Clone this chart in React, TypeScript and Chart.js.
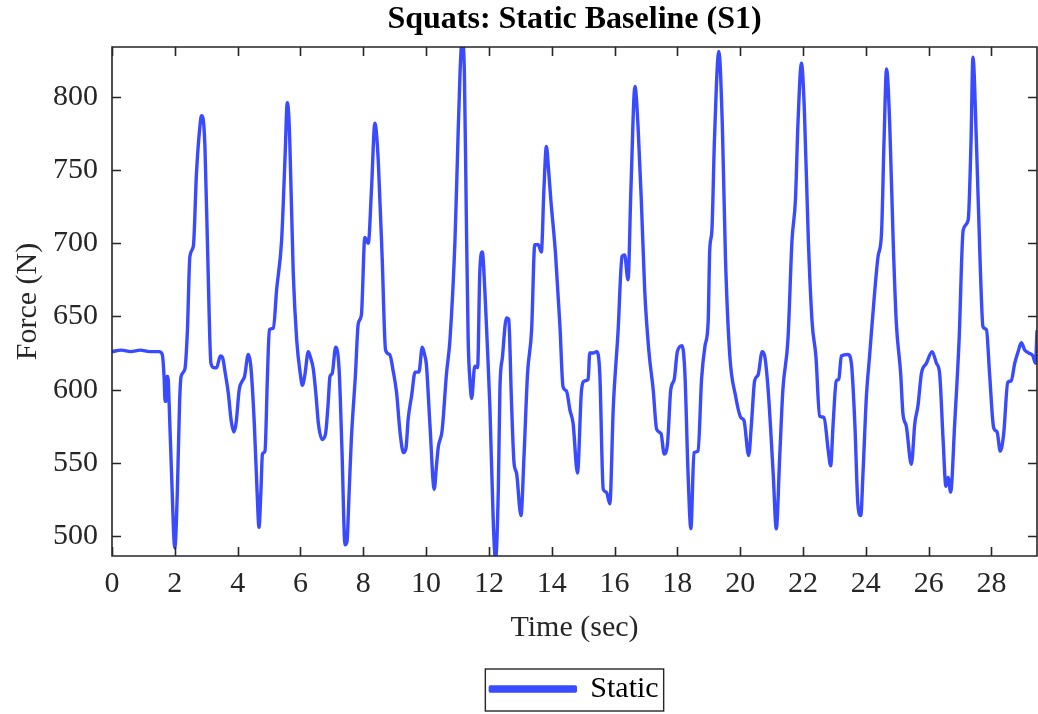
import React, { useEffect, useRef } from "react";
import { Chart, registerables } from "chart.js";

Chart.register(...registerables);

const timeSec: number[] = [
  0.0, 0.3, 0.6, 0.9, 1.2, 1.5, 1.6, 1.66, 1.69, 1.72, 1.75, 1.78, 1.82, 1.9, 2.0, 2.08, 2.15, 2.2, 2.32, 2.4,
  2.48, 2.59, 2.69, 2.8, 2.85, 2.9, 2.96, 3.05, 3.15, 3.25, 3.33, 3.45, 3.52, 3.6, 3.7, 3.8, 3.88, 3.95, 4.05, 4.15,
  4.22, 4.34, 4.42, 4.53, 4.62, 4.68, 4.74, 4.79, 4.87, 4.95, 5.01, 5.14, 5.24, 5.4, 5.51, 5.58, 5.62, 5.66, 5.77, 5.88,
  6.0, 6.06, 6.14, 6.25, 6.32, 6.41, 6.5, 6.57, 6.69, 6.8, 6.88, 6.94, 7.01, 7.12, 7.23, 7.32, 7.42, 7.48, 7.55, 7.62,
  7.75, 7.84, 7.94, 8.05, 8.16, 8.26, 8.37, 8.42, 8.48, 8.6, 8.71, 8.84, 8.95, 9.06, 9.17, 9.28, 9.36, 9.43, 9.54, 9.65,
  9.77, 9.88, 9.95, 10.01, 10.12, 10.26, 10.33, 10.39, 10.51, 10.65, 10.76, 10.92, 11.0, 11.08, 11.15, 11.22, 11.28, 11.34, 11.4, 11.45,
  11.55, 11.64, 11.71, 11.79, 11.87, 11.95, 12.03, 12.14, 12.21, 12.3, 12.35, 12.43, 12.56, 12.63, 12.72, 12.8, 12.88, 13.02, 13.12, 13.23,
  13.36, 13.46, 13.57, 13.67, 13.75, 13.83, 13.9, 13.97, 14.12, 14.26, 14.36, 14.47, 14.58, 14.68, 14.82, 14.95, 15.05, 15.16, 15.21, 15.32,
  15.43, 15.53, 15.64, 15.74, 15.85, 15.96, 16.11, 16.24, 16.32, 16.43, 16.52, 16.65, 16.75, 16.86, 16.96, 17.09, 17.23, 17.34, 17.48, 17.58,
  17.69, 17.79, 17.9, 18.0, 18.15, 18.24, 18.34, 18.43, 18.53, 18.66, 18.77, 18.88, 18.98, 19.03, 19.1, 19.18, 19.32, 19.43, 19.53, 19.67,
  19.85, 20.02, 20.12, 20.27, 20.36, 20.46, 20.57, 20.7, 20.78, 20.89, 21.05, 21.15, 21.26, 21.36, 21.52, 21.65, 21.76, 21.84, 21.95, 22.04,
  22.17, 22.29, 22.41, 22.53, 22.67, 22.8, 22.88, 22.96, 23.06, 23.14, 23.22, 23.43, 23.54, 23.65, 23.75, 23.84, 23.91, 24.02, 24.12, 24.26,
  24.39, 24.5, 24.58, 24.66, 24.76, 24.87, 24.97, 25.11, 25.18, 25.29, 25.45, 25.56, 25.66, 25.77, 25.93, 26.11, 26.25, 26.35, 26.46, 26.55,
  26.62, 26.7, 26.83, 26.97, 27.1, 27.26, 27.35, 27.41, 27.52, 27.65, 27.73, 27.84, 27.94, 28.07, 28.18, 28.28, 28.39, 28.52, 28.63, 28.74,
  28.85, 28.95, 29.06, 29.19, 29.32, 29.4, 29.45,
];

const staticForce: number[] = [
  626, 627, 626, 627, 626, 626, 624, 608, 592, 592, 609, 609, 590, 540, 492, 530, 590, 609, 614, 640,
  691, 698, 748, 780, 787, 785, 765, 690, 618, 615, 615, 623, 622, 612, 598, 578, 571, 577, 600, 606,
  609, 624, 616, 577, 530, 506, 530, 556, 558, 610, 641, 642, 668, 702, 759, 796, 790, 770, 680, 634,
  610, 603, 610, 626, 622, 614, 595, 577, 566, 570, 590, 609, 611, 629, 614, 560, 494, 496, 530, 566,
  610, 645, 651, 704, 700, 736, 782, 775, 755, 691, 627, 624, 613, 598, 571, 557, 560, 580, 596, 612,
  612, 629, 624, 617, 577, 532, 548, 561, 572, 611, 634, 702, 760, 816, 840, 815, 720, 634, 605, 594,
  616, 615, 680, 694, 668, 630, 589, 509, 484, 532, 600, 622, 649, 648, 591, 550, 543, 514, 556, 611,
  641, 699, 699, 694, 736, 766, 750, 730, 693, 644, 602, 599, 586, 577, 543, 600, 606, 607, 625, 625,
  626, 611, 532, 530, 522, 588, 639, 691, 692, 675, 736, 807, 779, 725, 668, 627, 600, 573, 570, 556,
  564, 600, 607, 626, 630, 611, 543, 505, 557, 558, 607, 630, 646, 695, 709, 770, 831, 782, 691, 623,
  596, 581, 579, 555, 577, 606, 610, 626, 623, 600, 543, 505, 555, 600, 634, 702, 730, 782, 823, 793,
  702, 646, 623, 582, 581, 559, 548, 577, 606, 607, 623, 624, 618, 577, 521, 514, 543, 596, 623, 661,
  691, 707, 770, 819, 782, 702, 646, 611, 584, 575, 549, 577, 589, 611, 618, 626, 618, 611, 566, 534,
  540, 530, 577, 634, 709, 716, 770, 827, 770, 680, 643, 641, 611, 574, 571, 558, 570, 605, 606, 618,
  626, 632, 627, 625, 623, 618, 640,
];

const xTickValues: number[] = [0, 2, 4, 6, 8, 10, 12, 14, 16, 18, 20, 22, 24, 26, 28];
const yTickValues: number[] = [500, 550, 600, 650, 700, 750, 800];

const FONT = "'Liberation Serif', 'Times New Roman', serif";
const AXIS_COLOR = "#262626";
const LINE_COLOR = "#3a4bff";

const framePlugin = {
  id: "matlabFrame",
  afterDraw(chart: any) {
    const { ctx, chartArea, scales } = chart;
    const { left, right, top, bottom } = chartArea;
    const x = scales.x;
    const y = scales.y;
    ctx.save();
    ctx.strokeStyle = AXIS_COLOR;
    ctx.lineWidth = 1.6;
    ctx.beginPath();
    ctx.rect(left, top, right - left, bottom - top);
    const tl = 9;
    x.ticks.forEach((t: any) => {
      const px = Math.round(x.getPixelForValue(t.value)) + 0.5;
      ctx.moveTo(px, bottom);
      ctx.lineTo(px, bottom - tl);
      ctx.moveTo(px, top);
      ctx.lineTo(px, top + tl);
    });
    y.ticks.forEach((t: any) => {
      const py = Math.round(y.getPixelForValue(t.value)) + 0.5;
      ctx.moveTo(left, py);
      ctx.lineTo(left + tl, py);
      ctx.moveTo(right, py);
      ctx.lineTo(right - tl, py);
    });
    ctx.stroke();
    const lg = chart.legend;
    if (lg && lg.legendHitBoxes && lg.legendHitBoxes[0]) {
      const hb = lg.legendHitBoxes[0];
      ctx.lineWidth = 1.4;
      ctx.strokeStyle = AXIS_COLOR;
      ctx.strokeRect(hb.left - 5, hb.top + hb.height / 2 - 20, hb.width + 10, 42);
    }
    ctx.restore();
  },
};

export default function App() {
  const canvasRef = useRef<HTMLCanvasElement | null>(null);

  useEffect(() => {
    if (!canvasRef.current) return;
    const points = timeSec.map((t, i) => ({ x: t, y: staticForce[i] }));
    const chart = new Chart(canvasRef.current, {
      type: "line",
      data: {
        datasets: [
          {
            label: "Static",
            data: points,
            borderColor: LINE_COLOR,
            backgroundColor: LINE_COLOR,
            borderWidth: 3.4,
            borderJoinStyle: "round",
            borderCapStyle: "round",
            pointRadius: 0,
            cubicInterpolationMode: "monotone",
            fill: false,
          },
        ],
      },
      options: {
        animation: false,
        responsive: true,
        maintainAspectRatio: false,
        layout: { padding: { left: 0, right: 1, top: 0, bottom: 0 } },
        plugins: {
          title: {
            display: true,
            text: "Squats: Static Baseline (S1)",
            fullSize: false,
            color: "#000",
            font: { family: FONT, size: 32, weight: "bold" },
            padding: { top: 1, bottom: 7.6 },
          },
          legend: {
            display: true,
            position: "bottom",
            fullSize: false,
            labels: {
              color: "#000",
              font: { family: FONT, size: 30 },
              boxWidth: 85,
              boxHeight: 4,
              padding: 10,
            },
          },
          tooltip: { enabled: false },
        },
        scales: {
          x: {
            type: "linear",
            min: 0,
            max: 29.45,
            grid: { display: false, drawTicks: false },
            border: { display: false },
            afterBuildTicks: (scale: any) => {
              scale.ticks = xTickValues.map((v) => ({ value: v }));
            },
            afterFit: (scale: any) => {
              scale.height = 108;
            },
            ticks: {
              color: AXIS_COLOR,
              font: { family: FONT, size: 30 },
              padding: 10,
              maxRotation: 0,
              autoSkip: false,
            },
            title: {
              display: true,
              text: "Time (sec)",
              color: AXIS_COLOR,
              font: { family: FONT, size: 30 },
              padding: { top: 0, bottom: 18 },
            },
          },
          y: {
            type: "linear",
            min: 486.4,
            max: 834,
            grid: { display: false, drawTicks: false },
            border: { display: false },
            afterBuildTicks: (scale: any) => {
              scale.ticks = yTickValues.map((v) => ({ value: v }));
            },
            afterFit: (scale: any) => {
              scale.width = 112;
            },
            ticks: {
              color: AXIS_COLOR,
              font: { family: FONT, size: 30 },
              padding: 14,
              autoSkip: false,
            },
            title: {
              display: true,
              text: "Force (N)",
              color: AXIS_COLOR,
              font: { family: FONT, size: 30 },
              padding: { top: 10, bottom: 0 },
            },
          },
        },
      },
      plugins: [framePlugin],
    });
    return () => chart.destroy();
  }, []);

  return (
    <div style={{ position: "absolute", left: 0, top: 0, width: 1038, height: 714, background: "#fff" }}>
      <canvas ref={canvasRef} />
    </div>
  );
}
